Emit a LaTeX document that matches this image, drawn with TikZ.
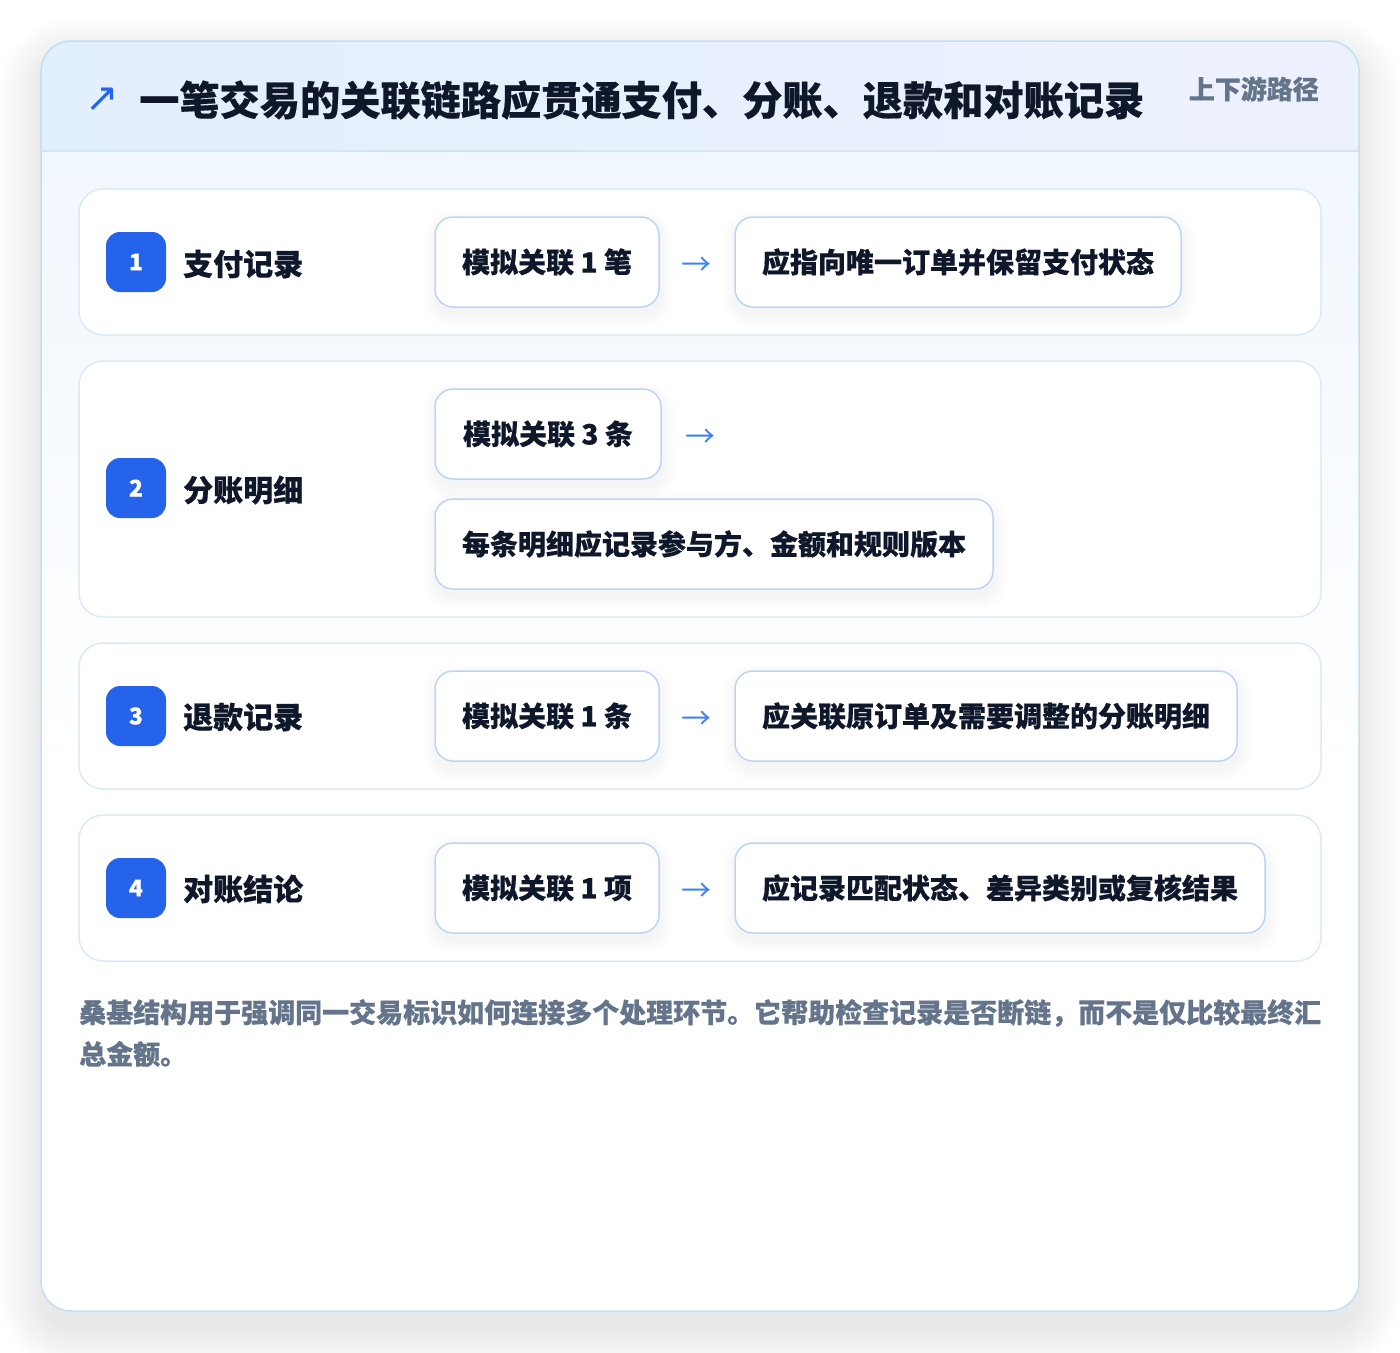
\documentclass[tikz,border=0pt]{standalone}
\usepackage{fontspec}
\setmainfont{Noto Sans CJK SC}[BoldFeatures={FakeBold=0.4}]
\newfontfamily\dejavu{DejaVu Sans}
\definecolor{ink}{HTML}{0F172A}
\definecolor{muted}{HTML}{64748B}
\definecolor{badgeblue}{HTML}{2563EB}
\definecolor{arrowblue}{HTML}{3B82F6}
\definecolor{cardborder}{HTML}{BFE1F4}
\definecolor{hdrL}{HTML}{E2EFFD}
\definecolor{hdrR}{HTML}{EDF1FD}
\definecolor{hdrline}{HTML}{D4E6F6}
\definecolor{cardtop}{HTML}{F1F7FE}
\definecolor{rowline}{HTML}{DCE9F8}
\definecolor{pillline}{HTML}{BCD5F5}
\pgfdeclarelayer{bg}
\pgfdeclarelayer{shd}
\pgfsetlayers{bg,shd,main}
\newcommand\pillshadow[1]{%
  \begin{pgfonlayer}{shd}
  \foreach \e [evaluate=\e as \r using 18+\e] in {0,1.5,...,13.5}{
    \fill[black, opacity=0.0045, rounded corners=\r pt]
      ([xshift=-\e pt+1pt, yshift=\e pt-7pt]#1.north west) rectangle
      ([xshift=\e pt+1pt, yshift=-\e pt-7pt]#1.south east);
  }
  \end{pgfonlayer}}
\tikzset{
  rowcard/.style={draw=rowline, fill=white, rounded corners=24pt, line width=1.5pt, inner sep=0pt, minimum width=1242pt},
  badge/.style={fill=badgeblue, rounded corners=14pt, minimum size=60pt, inner sep=0pt, text=white, font=\bfseries\fontsize{23}{23}\selectfont},
  lbl/.style={anchor=west, inner sep=0pt, text=ink, font=\bfseries\fontsize{30}{30}\selectfont},
  pill/.style={draw=pillline, fill=white, rounded corners=18pt, line width=1.5pt, minimum height=90pt, inner sep=0pt, text=ink, font=\bfseries\fontsize{28}{28}\selectfont},
  arr/.style={inner sep=0pt, text=arrowblue, font=\fontsize{30}{30}\selectfont},
  foot/.style={anchor=west, inner sep=0pt, text=muted, font=\bfseries\fontsize{27}{27}\selectfont}
}
\begin{document}
\begin{tikzpicture}[x=1pt,y=-1pt]
\useasboundingbox (0,0) rectangle (1400,1352);
\begin{pgfonlayer}{bg}
\fill[white] (0,0) rectangle (1400,1352);
% soft card shadow
\foreach \e [evaluate=\e as \r using 30+\e] in {0,2,...,42}{
  \fill[black, opacity=0.0055, rounded corners=\r pt] (41-\e,41-\e+18) rectangle (1359+\e,1311+\e+18);
}
\fill[white, rounded corners=30pt] (41,41) rectangle (1359,1311);
\begin{scope}
\clip[rounded corners=30pt] (41,41) rectangle (1359,1311);
\shade[top color=cardtop, bottom color=white] (41,151) rectangle (1359,760);
\shade[left color=hdrL, right color=hdrR] (41,41) rectangle (1359,151);
\draw[hdrline, line width=1.5pt] (41,151) -- (1359,151);
\end{scope}
\draw[cardborder, line width=1.5pt, rounded corners=30pt] (41,41) rectangle (1359,1311);
% row cards
\node[rowcard, minimum height=146pt] (r1) at (700,262) {};
\node[rowcard, minimum height=256pt] (r2) at (700,489) {};
\node[rowcard, minimum height=146pt] (r3) at (700,716) {};
\node[rowcard, minimum height=146pt] (r4) at (700,888) {};
\end{pgfonlayer}
% header
\node[inner sep=0pt, text=badgeblue, font=\dejavu\fontsize{40}{40}\selectfont] (ticon) at (102,100) {↗};
\node[anchor=west, inner sep=0pt, text=ink, font=\bfseries\fontsize{40.2}{41}\selectfont] (title) at (139,100) {一笔交易的关联链路应贯通支付、分账、退款和对账记录};
\node[anchor=east, inner sep=0pt, text=muted, font=\bfseries\fontsize{26}{26}\selectfont] (tag) at (1319,89) {上下游路径};
% badges and labels
\node[badge] (n1) at (136,262) {1};
\node[badge] (n2) at (136,488) {2};
\node[badge] (n3) at (136,716) {3};
\node[badge] (n4) at (136,888) {4};
\node[lbl] (l1) at (183,264) {支付记录};
\node[lbl] (l2) at (183,490) {分账明细};
\node[lbl] (l3) at (183,717) {退款记录};
\node[lbl] (l4) at (183,889) {对账结论};
% row 1
\node[pill, minimum width=224pt] (a1) at (547,262) {模拟关联 1 笔};
\node[arr] (t1) at (696,266) {→};
\node[pill, minimum width=446pt] (b1) at (958,262) {应指向唯一订单并保留支付状态};
% row 2
\node[pill, minimum width=226pt] (a2) at (548,434) {模拟关联 3 条};
\node[arr] (t2) at (700,438) {→};
\node[pill, minimum width=558pt] (b2) at (714,544) {每条明细应记录参与方、金额和规则版本};
% row 3
\node[pill, minimum width=224pt] (a3) at (547,716) {模拟关联 1 条};
\node[arr] (t3) at (696,720) {→};
\node[pill, minimum width=502pt] (b3) at (986,716) {应关联原订单及需要调整的分账明细};
% row 4
\node[pill, minimum width=224pt] (a4) at (547,888) {模拟关联 1 项};
\node[arr] (t4) at (696,892) {→};
\node[pill, minimum width=530pt] (b4) at (1000,888) {应记录匹配状态、差异类别或复核结果};
\pillshadow{a1}\pillshadow{b1}\pillshadow{a2}\pillshadow{b2}
\pillshadow{a3}\pillshadow{b3}\pillshadow{a4}\pillshadow{b4}
% footer
\node[foot] (f1) at (79,1013) {桑基结构用于强调同一交易标识如何连接多个处理环节。它帮助检查记录是否断链，而不是仅比较最终汇};
\node[foot] (f2) at (79,1054) {总金额。};
\end{tikzpicture}
\end{document}
